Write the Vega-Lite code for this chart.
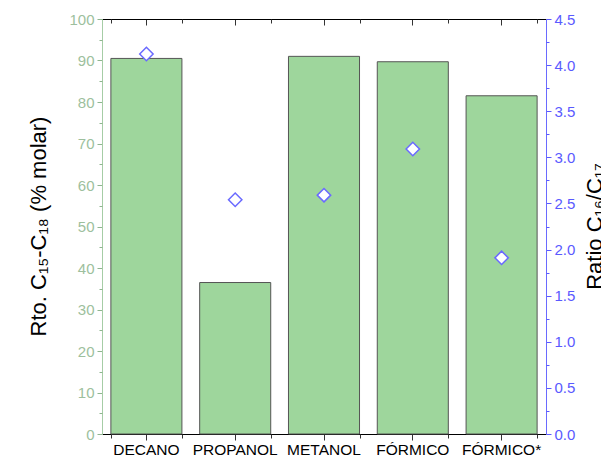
{
  "$schema": "https://vega.github.io/schema/vega-lite/v6.json",
  "width": 444,
  "height": 415,
  "autosize": "none",
  "padding": {"left": 102, "top": 19, "right": 55, "bottom": 26},
  "config": {
    "view": {"stroke": null},
    "font": "Liberation Sans",
    "axis": {"grid": false, "labelFont": "Liberation Sans", "titleFont": "Liberation Sans", "titleFontWeight": "normal"}
  },
  "data": {
    "values": [
      {"cat": "DECANO", "rto": 90.5, "ratio": 4.12},
      {"cat": "PROPANOL", "rto": 36.5, "ratio": 2.54},
      {"cat": "METANOL", "rto": 91.0, "ratio": 2.59},
      {"cat": "FÓRMICO", "rto": 89.7, "ratio": 3.09},
      {"cat": "FÓRMICO*", "rto": 81.5, "ratio": 1.91}
    ]
  },
  "encoding": {
    "x": {"field": "cat", "type": "nominal", "sort": null, "scale": {"paddingInner": 0.2, "paddingOuter": 0.1}}
  },
  "layer": [
    {
      "mark": {"type": "bar", "fill": "#9ed69c", "stroke": "#555555", "strokeWidth": 1},
      "encoding": {
        "x": {"field": "cat", "type": "nominal", "sort": null,
          "axis": {"orient": "bottom", "title": null, "labelAngle": 0, "labelFontSize": 15.5, "labelColor": "#000000", "tickSize": 6, "tickColor": "#333333", "domainColor": "#000000", "labelPadding": 2}},
        "y": {"field": "rto", "type": "quantitative", "scale": {"domain": [0, 100], "nice": false},
          "axis": {"orient": "left", "values": [0,10,20,30,40,50,60,70,80,90,100], "labelColor": "#9dbf9d", "labelFontSize": 15, "tickColor": "#8fb58f", "domainColor": "#a6cda6", "tickSize": 5, "labelPadding": 3,
            "title": "Rto. C₁₅-C₁₈ (% molar)", "titleFontSize": 22, "titleColor": "#000000", "titleX": -57, "titleY": 207, "titleAngle": 270, "titleBaseline": "alphabetic"}}
      }
    },
    {
      "mark": {"type": "bar", "opacity": 0},
      "encoding": {
        "x": {"field": "cat", "type": "nominal", "sort": null,
          "axis": {"orient": "bottom", "title": null, "labels": false, "domain": false, "tickBand": "extent", "tickSize": 4, "tickColor": "#333333"}},
        "y": {"field": "rto", "type": "quantitative", "scale": {"domain": [0, 100], "nice": false},
          "axis": {"orient": "left", "values": [5,15,25,35,45,55,65,75,85,95], "labels": false, "domain": false, "tickSize": 3, "tickColor": "#8fb58f", "title": null}}
      }
    },
    {
      "mark": {"type": "bar", "opacity": 0},
      "encoding": {
        "x": {"field": "cat", "type": "nominal", "sort": null,
          "axis": {"orient": "top", "title": null, "labels": false, "tickSize": -6, "tickColor": "#333333", "domainColor": "#000000"}},
        "y": {"field": "rto", "type": "quantitative", "scale": {"domain": [0, 100], "nice": false}, "axis": null}
      }
    },
    {
      "mark": {"type": "bar", "opacity": 0},
      "encoding": {
        "x": {"field": "cat", "type": "nominal", "sort": null,
          "axis": {"orient": "top", "title": null, "labels": false, "domain": false, "tickBand": "extent", "tickSize": -4, "tickColor": "#333333"}},
        "y": {"field": "rto", "type": "quantitative", "scale": {"domain": [0, 100], "nice": false}, "axis": null}
      }
    },
    {
      "mark": {"type": "point", "shape": "diamond", "size": 180, "filled": false, "fill": "#ffffff", "fillOpacity": 1, "stroke": "#6a6aff", "strokeWidth": 1.5, "opacity": 1},
      "encoding": {
        "x": {"field": "cat", "type": "nominal", "sort": null, "axis": null},
        "y": {"field": "ratio", "type": "quantitative", "scale": {"domain": [0, 4.5], "nice": false},
          "axis": {"orient": "right", "values": [0,0.5,1,1.5,2,2.5,3,3.5,4,4.5], "format": ".1f", "labelColor": "#5a5aff", "labelFontSize": 15, "tickColor": "#5a5aff", "domainColor": "#6a6aff", "tickSize": 5, "labelPadding": 3,
            "title": "Ratio C₁₆/C₁₇", "titleAngle": 270, "titleFontSize": 22, "titleColor": "#000000", "titleX": 55, "titleY": 207, "titleBaseline": "alphabetic"}}
      }
    },
    {
      "mark": {"type": "point", "opacity": 0},
      "encoding": {
        "x": {"field": "cat", "type": "nominal", "sort": null, "axis": null},
        "y": {"field": "ratio", "type": "quantitative", "scale": {"domain": [0, 4.5], "nice": false},
          "axis": {"orient": "right", "values": [0.25,0.75,1.25,1.75,2.25,2.75,3.25,3.75,4.25], "labels": false, "domain": false, "tickSize": 3, "tickColor": "#5a5aff", "title": null}}
      }
    }
  ],
  "resolve": {"scale": {"y": "independent"}, "axis": {"x": "independent", "y": "independent"}}
}
